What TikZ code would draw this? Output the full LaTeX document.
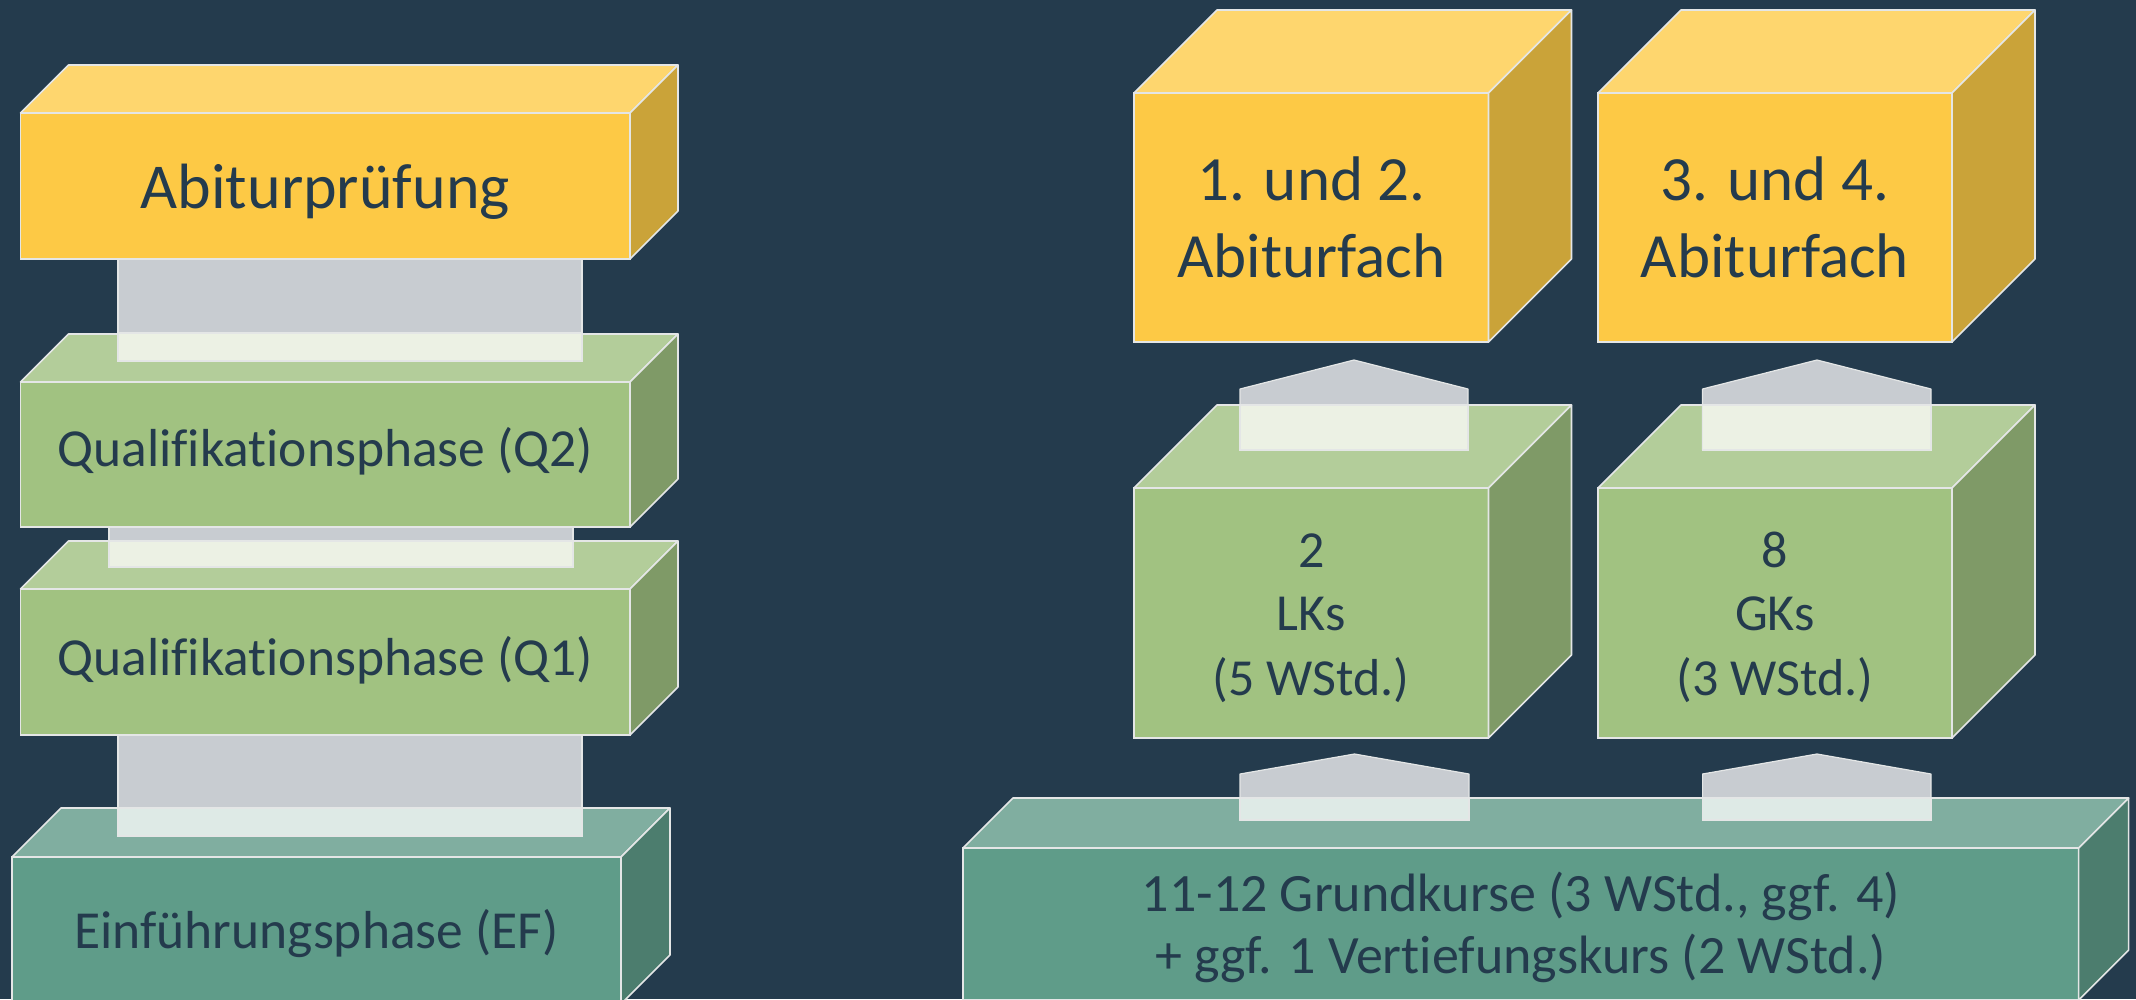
\documentclass[tikz,border=0pt]{standalone}
\usepackage{fontspec}
\setmainfont{Carlito}[Ligatures=NoCommon]
\usetikzlibrary{calc}
\definecolor{bg}{RGB}{36,59,77}
\definecolor{ink}{RGB}{36,59,77}
\definecolor{edge}{RGB}{228,230,230}
\definecolor{yF}{RGB}{253,201,69}
\definecolor{yT}{RGB}{254,214,110}
\definecolor{yS}{RGB}{202,163,57}
\definecolor{gF}{RGB}{161,194,129}
\definecolor{gT}{RGB}{179,205,154}
\definecolor{gS}{RGB}{127,154,103}
\definecolor{tF}{RGB}{95,156,137}
\definecolor{tT}{RGB}{128,174,160}
\definecolor{tS}{RGB}{76,125,110}
\definecolor{linkc}{RGB}{200,204,209}
\definecolor{hiG}{RGB}{236,241,228}
\definecolor{hiT}{RGB}{222,234,230}
\tikzset{
  face/.style={draw=edge, line width=1.6pt, line join=round},
  box/.style={rectangle, draw=edge, line width=1.6pt, inner sep=0pt, outer sep=0pt},
  lbl/.style={anchor=base, text=ink, inner sep=0pt, outer sep=0pt},
  link/.style={fill=linkc, draw=edge, line width=1.2pt, line join=round},
  linkhi/.style={draw=edge, line width=1.2pt},
  fA/.style={font=\fontsize{64}{77}\selectfont},
  fQ/.style={font=\fontsize{53.5}{64}\selectfont},
  fY/.style={font=\fontsize{63}{76}\selectfont},
  fG/.style={font=\fontsize{52}{62}\selectfont},
  fB/.style={font=\fontsize{54}{65}\selectfont},
}
\newcommand\cubefaces[4]{%
  \filldraw[face, fill=#3] (#1.north west) -- ($(#1.north west)+(#2,-#2)$) -- ($(#1.north east)+(#2,-#2)$) -- (#1.north east) -- cycle;
  \filldraw[face, fill=#4] (#1.north east) -- ($(#1.north east)+(#2,-#2)$) -- ($(#1.south east)+(#2,-#2)$) -- (#1.south east) -- cycle;
}
\begin{document}
\begin{tikzpicture}[x=1pt,y=-1pt]
\useasboundingbox (0,0) rectangle (2136,999);
\fill[bg] (0,0) rectangle (2136,999);
\clip (0,0) rectangle (2136,999);

% ---------- left column ----------
\node[box, fill=tF, minimum width=609pt, minimum height=147pt] (ef) at (316.5,930.5) {};
\cubefaces{ef}{49}{tT}{tS}
\node[box, fill=gF, minimum width=609.5pt, minimum height=146pt] (q1) at (325.25,662) {};
\cubefaces{q1}{48}{gT}{gS}
\node[box, fill=gF, minimum width=609.5pt, minimum height=145pt] (q2) at (325.25,454.5) {};
\cubefaces{q2}{48}{gT}{gS}
\node[box, fill=yF, minimum width=609.5pt, minimum height=146pt] (abi) at (325.25,186) {};
\cubefaces{abi}{48}{yT}{yS}

% connectors left
\filldraw[link] ($(abi.south)+(-207.25,0)$) rectangle ($(q2.north)+(256.75,-21)$);
\filldraw[linkhi, fill=hiG] ($(q2.north)+(-207.25,-49)$) rectangle ($(q2.north)+(256.75,-21)$);
\filldraw[link] ($(q2.south)+(-216.25,0)$) rectangle ($(q1.north)+(247.75,-22)$);
\filldraw[linkhi, fill=hiG] ($(q1.north)+(-216.25,-48)$) rectangle ($(q1.north)+(247.75,-22)$);
\filldraw[link] ($(q1.south)+(-207.25,0)$) rectangle ($(ef.north)+(265.5,-21)$);
\filldraw[linkhi, fill=hiT] ($(ef.north)+(-198.5,-49)$) rectangle ($(ef.north)+(265.5,-21)$);

% labels left
\node[lbl, fA] (tabi) at (325.25,208) {Abiturprüfung};
\node[lbl, fQ] (tq2) at (325.25,466) {Qualifikationsphase (Q2)};
\node[lbl, fQ] (tq1) at (325.25,675) {Qualifikationsphase (Q1)};
\node[lbl, fQ] (tef) at (316.5,948) {Einführungsphase (EF)};

% ---------- right column ----------
\node[box, fill=tF, minimum width=1115.6pt, minimum height=152pt] (gk) at (1520.8,924) {};
\cubefaces{gk}{50}{tT}{tS}
\node[box, fill=gF, minimum width=354.5pt, minimum height=250pt] (lk) at (1311.25,613) {};
\cubefaces{lk}{83}{gT}{gS}
\node[box, fill=gF, minimum width=354pt, minimum height=250pt] (gkk) at (1775,613) {};
\cubefaces{gkk}{83}{gT}{gS}
\node[box, fill=yF, minimum width=354.5pt, minimum height=249pt] (y1) at (1311.25,217.5) {};
\cubefaces{y1}{83}{yT}{yS}
\node[box, fill=yF, minimum width=354pt, minimum height=249pt] (y2) at (1775,217.5) {};
\cubefaces{y2}{83}{yT}{yS}

% arrows lk -> y1, gkk -> y2
\filldraw[link] ($(lk.north)+(-71.25,-38)$) -- ($(lk.north)+(-71.25,-99)$) -- ($(y1.south)+(42.75,18)$) -- ($(lk.north)+(156.75,-99)$) -- ($(lk.north)+(156.75,-38)$) -- cycle;
\filldraw[linkhi, fill=hiG] ($(lk.north)+(-71.25,-83)$) rectangle ($(lk.north)+(156.75,-38)$);
\filldraw[link] ($(gkk.north)+(-72.5,-38)$) -- ($(gkk.north)+(-72.5,-99)$) -- ($(y2.south)+(42,18)$) -- ($(gkk.north)+(156,-99)$) -- ($(gkk.north)+(156,-38)$) -- cycle;
\filldraw[linkhi, fill=hiG] ($(gkk.north)+(-72.5,-83)$) rectangle ($(gkk.north)+(156,-38)$);

% arrows gk -> lk, gk -> gkk
\filldraw[link] ($(gk.north)+(-280.8,-28)$) -- ($(gk.north)+(-280.8,-74)$) -- ($(lk.south)+(43.25,16)$) -- ($(gk.north)+(-51.8,-74)$) -- ($(gk.north)+(-51.8,-28)$) -- cycle;
\filldraw[linkhi, fill=hiT] ($(gk.north)+(-280.8,-50)$) rectangle ($(gk.north)+(-51.8,-28)$);
\filldraw[link] ($(gk.north)+(181.8,-28)$) -- ($(gk.north)+(181.8,-74)$) -- ($(gkk.south)+(42,16)$) -- ($(gk.north)+(410.2,-74)$) -- ($(gk.north)+(410.2,-28)$) -- cycle;
\filldraw[linkhi, fill=hiT] ($(gk.north)+(181.8,-50)$) rectangle ($(gk.north)+(410.2,-28)$);

% labels right
\node[lbl, fY] (ty1a) at (1311.25,200) {1. und 2.};
\node[lbl, fY] (ty1b) at (1311.25,277) {Abiturfach};
\node[lbl, fY] (ty2a) at (1775,200) {3. und 4.};
\node[lbl, fY] (ty2b) at (1775,277) {Abiturfach};
\node[lbl, fG] (tlka) at (1311.25,567.7) {2};
\node[lbl, fG] (tlkb) at (1311.25,630.7) {LKs};
\node[lbl, fG] (tlkc) at (1311.25,695) {(5 WStd.)};
\node[lbl, fG] (tgka) at (1775,567.7) {8};
\node[lbl, fG] (tgkb) at (1775,630.7) {GKs};
\node[lbl, fG] (tgkc) at (1775,695) {(3 WStd.)};
\node[lbl, fB] (tgr1) at (1520.8,911.7) {11-12 Grundkurse (3 WStd., ggf. 4)};
\node[lbl, fB] (tgr2) at (1520.8,973) {+ ggf. 1 Vertiefungskurs (2 WStd.)};
\end{tikzpicture}
\end{document}
